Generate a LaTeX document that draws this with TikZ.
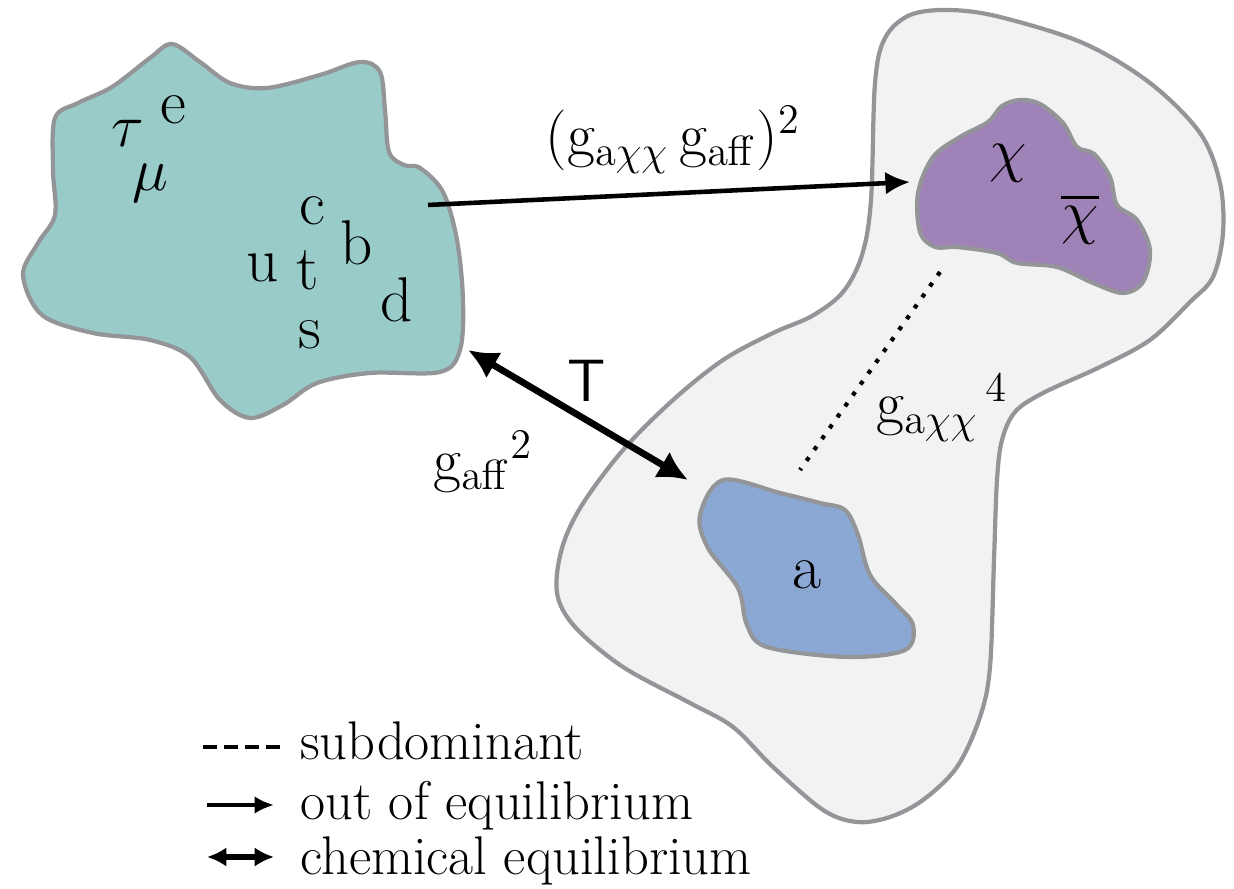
\documentclass[tikz,border=0pt]{standalone}
\usepackage{amsmath}
\usepackage{tikz}
\usetikzlibrary{arrows.meta}

\definecolor{smteal}{RGB}{153,203,200}
\definecolor{dmpurple}{RGB}{158,130,184}
\definecolor{axblue}{RGB}{139,168,213}
\definecolor{hidgray}{RGB}{241,243,242}
\definecolor{edgegray}{RGB}{147,149,152}

\begin{document}
\begin{tikzpicture}[
      x=0.1mm, y=-0.1mm,
      font=\fontsize{17}{20}\selectfont,
      >=Latex,
      blob/.style={draw=edgegray, line width=1.2pt},
      part/.style={font=\fontsize{18}{20}\selectfont, inner sep=0.5pt},
      cpl/.style={font=\fontsize{17}{20}\selectfont, inner sep=1pt},
      legtext/.style={font=\fontsize{15.5}{18}\selectfont, anchor=base west},
      arrow/.style={line width=1.3pt,-{Latex[length=7pt,width=6.5pt]}},
      dblarrow/.style={line width=1.9pt,{Latex[length=8.5pt,width=8.5pt]}-{Latex[length=8.5pt,width=8.5pt]}},
      subdom/.style={line width=1.2pt, dash pattern=on 1.2pt off 2.6pt},
      legdash/.style={line width=1.1pt, dash pattern=on 4pt off 2pt}
    ]

    \path[use as bounding box] (0,0) rectangle (1234,889);

    % Hidden sector
    \draw[blob, fill=hidgray] plot[smooth cycle, tension=0.55] coordinates {
      (875,83) (885,38) (910,15) (950,10) (1000,17) (1083,43) (1150,83)
      (1200,133) (1220,183) (1223,233) (1213,277) (1190,302) (1150,340)
      (1100,367) (1043,393) (1015,412) (1002,440) (997,480) (994,560)
      (990,667) (980,717) (957,767) (923,800) (890,817) (857,822)
      (823,810) (773,767) (733,727) (690,703) (623,667) (575,627)
      (557,593) (562,548) (582,505) (623,450) (673,400) (723,360)
      (773,333) (812,316) (843,292) (862,255) (871,200)
    };

    % Standard model bath
    \draw[blob, fill=smteal] plot[smooth cycle, tension=0.55] coordinates {
      (172,44) (200,62) (230,83) (267,88) (320,75) (360,62) (380,72)
      (385,110) (389,152) (404,165) (420,168) (443,192) (457,240)
      (463,300) (460,350) (440,372) (370,373) (317,383) (283,405)
      (250,418) (220,400) (190,357) (150,340) (93,333) (42,315)
      (23,275) (38,243) (55,215) (53,170) (55,118) (78,103) (112,87)
      (150,58)
    };

    % Dark matter
    \draw[blob, fill=dmpurple] plot[smooth cycle, tension=0.55] coordinates {
      (1002,106) (1020,100) (1040,104) (1063,123) (1077,147) (1094,154)
      (1110,177) (1117,205) (1137,220) (1150,250) (1143,282) (1123,293)
      (1093,283) (1057,267) (1017,263) (997,253) (957,247) (935,247)
      (920,232) (918,193) (933,157) (960,137) (988,122)
    };

    % Mediator
    \draw[blob, fill=axblue] plot[smooth cycle, tension=0.55] coordinates {
      (723,480) (780,493) (820,503) (845,510) (858,535) (870,575)
      (895,603) (913,625) (905,650) (847,657) (767,647) (747,625)
      (738,588) (708,548) (700,515)
    };

    % Particles
    \node[part] (tau) at (128,133) {$\tau$};
    \node[part] (e) at (173,110) {e};
    \node[part] (mu) at (150,183) {$\mu$};
    \node[part] (c) at (312,211) {c};
    \node[part] (b) at (357,243) {b};
    \node[part] (u) at (263,268) {u};
    \node[part] (t) at (308,270) {t};
    \node[part] (s) at (310,335) {s};
    \node[part] (d) at (397,300) {d};
    \node[part] (chi) at (1008,163) {$\chi$};
    \node[part] (chibar) at (1080,219) {$\overline{\chi}$};
    \node[part] (a) at (807,575) {a};

    % Connector ends
    \coordinate (smout) at (428,205);
    \coordinate (dmin) at (910,182);
    \coordinate (smeq) at (468,350);
    \coordinate (aeq) at (688,480);
    \coordinate (dmsub) at (940,272);
    \coordinate (asub) at (800,470);

    \draw[arrow] (smout) -- (dmin);
    \draw[dblarrow] (smeq) -- (aeq);
    \draw[subdom] (dmsub) -- (asub);

    % Couplings
    \node[cpl] (gout) at (673,140)
    {$(\mathrm{g}_{\mathrm{a}\chi\chi}\,\mathrm{g}_{\mathrm{aff}})^{2}$};
    \node[cpl, font=\fontsize{17}{20}\sffamily] (temp) at (587,381) {T};
    \node[cpl] (gaff) at (483,462) {$\mathrm{g}_{\mathrm{aff}}{}^{2}$};
    \node[cpl] (gachi) at (942,408) {$\mathrm{g}_{\mathrm{a}\chi\chi}{}^{\,4}$};

    % Legend
    \node[legtext] (leg1) at (288,760) {subdominant};
    \node[legtext] (leg2) at (288,820) {out of equilibrium};
    \node[legtext] (leg3) at (288,875) {chemical equilibrium};
    \coordinate (l1) at (203,747);
    \coordinate (l2) at (207,805);
    \coordinate (l3) at (207,857);
    \draw[legdash] (l1) -- (280,747);
    \draw[line width=1.2pt,-{Latex[length=5.5pt,width=5pt]}] (l2) -- (274,805);
    \draw[line width=1.7pt,{Latex[length=5.5pt,width=5.5pt]}-{Latex[length=5.5pt,width=5.5pt]}] (l3) -- (274,857);

  \end{tikzpicture}
\end{document}
